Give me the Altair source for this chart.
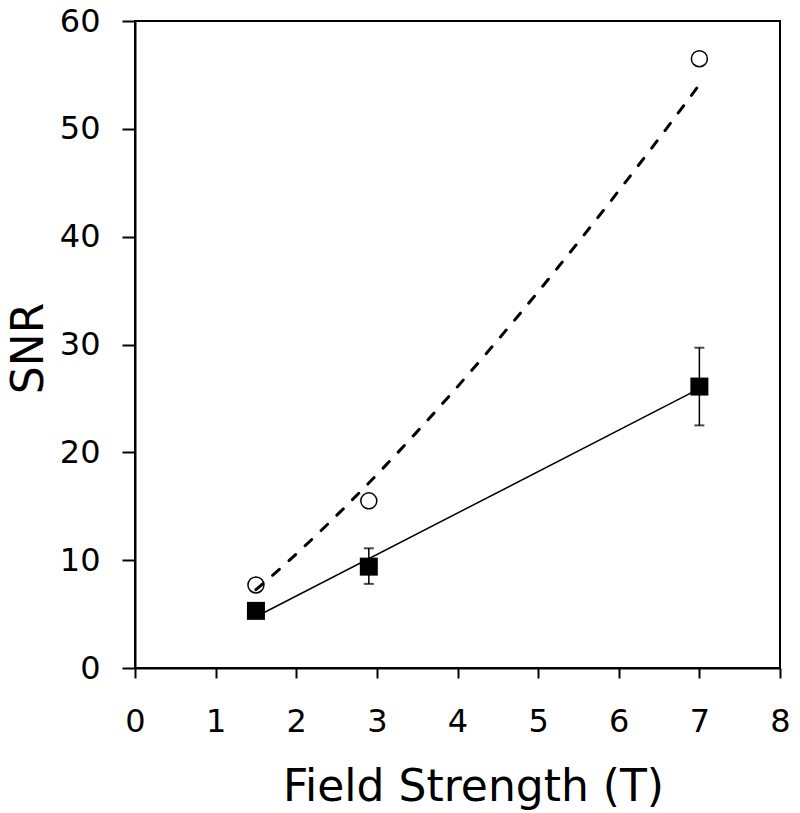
import altair as alt
import pandas as pd

# Data
field = [1.5, 2.9, 7.0]
snr_open = [7.7, 15.5, 56.5]
snr_filled = [5.3, 9.4, 26.1]
err_low = [5.0, 7.8, 22.5]
err_high = [5.6, 11.1, 29.7]
x_ticks = [0, 0.5, 1, 1.5, 2, 2.5, 3, 3.5, 4, 4.5, 5, 5.5, 6, 6.5, 7, 7.5, 8]
y_ticks = [0, 10, 20, 30, 40, 50, 60]

df_open = pd.DataFrame({"field": field, "snr": snr_open})
df_filled = pd.DataFrame({"field": field, "snr": snr_filled, "lo": err_low, "hi": err_high})

FONT = "DejaVu Sans"
xs = alt.Scale(domain=[0, 8], nice=False, zero=False)
ys = alt.Scale(domain=[0, 60], nice=False)

xaxis = alt.Axis(values=x_ticks, format="d",
                 labelExpr="datum.value % 1 == 0 ? format(datum.value, 'd') : ''",
                 title="Field Strength (T)", tickSize=10, labelPadding=28,
                 titleBaseline="alphabetic", titleY=132, titleX=338, titleAlign="center",
                 labelFlush=False)
yaxis = alt.Axis(values=y_ticks, format="d", title="SNR", tickSize=13, labelPadding=22,
                 titleAngle=270, titleBaseline="alphabetic", titleX=-93, titleY=327,
                 titleAlign="center")

X = alt.X("field:Q", scale=xs, axis=xaxis)
Y = alt.Y("snr:Q", scale=ys, axis=yaxis)

dashed = alt.Chart(df_open).transform_regression(
    "field", "snr", method="pow", extent=[1.5, 7]
).mark_line(color="black", strokeWidth=3, strokeDash=[9, 13], strokeCap="round").encode(x=X, y=Y)

solid = alt.Chart(df_filled).transform_regression(
    "field", "snr", method="linear", extent=[1.5, 7]
).mark_line(color="black", strokeWidth=1.5).encode(x=X, y=Y)

err_rule = alt.Chart(df_filled).mark_rule(color="black", strokeWidth=1.5).encode(
    x=X, y=alt.Y("lo:Q", scale=ys, axis=yaxis), y2="hi:Q")
cap_lo = alt.Chart(df_filled).mark_tick(color="black", orient="horizontal", size=10, thickness=2).encode(
    x=X, y=alt.Y("lo:Q", scale=ys, axis=yaxis))
cap_hi = alt.Chart(df_filled).mark_tick(color="black", orient="horizontal", size=10, thickness=2).encode(
    x=X, y=alt.Y("hi:Q", scale=ys, axis=yaxis))

squares = alt.Chart(df_filled).mark_point(shape="square", filled=True, color="black", size=324, opacity=1).encode(x=X, y=Y)
circles = alt.Chart(df_open).mark_point(shape="circle", filled=False, color="black", size=256, strokeWidth=1.5, opacity=1).encode(x=X, y=Y)

chart = alt.layer(dashed, solid, err_rule, cap_lo, cap_hi, squares, circles).properties(
    width=645, height=647,
    padding={"left": 127, "top": 13, "right": 12, "bottom": 142},
    autosize=alt.AutoSizeParams(type="none"),
).configure_view(
    stroke="black", strokeWidth=2
).configure_axis(
    grid=False, domainColor="black", domainWidth=2, tickColor="black", tickWidth=2,
    labelFont=FONT, labelFontSize=32, labelColor="black",
    titleFont=FONT, titleFontSize=44, titleFontWeight="normal", titleColor="black",
)

chart.save("out.html", embed_options={"renderer": "svg", "actions": False})
